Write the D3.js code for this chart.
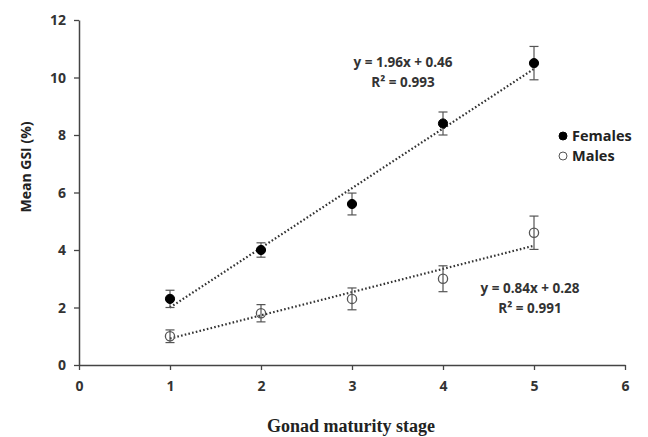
<!DOCTYPE html>
<html lang="en">
<head>
    <meta charset="UTF-8">
    <title>Mean GSI by gonad maturity stage</title>
    <script src="https://cdn.jsdelivr.net/npm/d3@7"></script>
    <style>
        body { margin: 0; background: #fff; }
        .tick text { font-family: "Open Sans", sans-serif; font-weight: bold; font-size: 14px; fill: #333; }
        .trend { fill: none; stroke: #333; stroke-width: 2.2px; stroke-dasharray: 1.6 2.2; }
        .err { stroke: #555; stroke-width: 1.2px; }
        .lbl { font-family: "Open Sans", sans-serif; font-weight: bold; font-size: 13.5px; fill: #333; }
    </style>
</head>
<body>
    <div id="charts"></div>
    <script>
        // data
        const stages = [1, 2, 3, 4, 5];
        const females = [2.3, 4.0, 5.6, 8.4, 10.5];
        const femalesErr = [0.3, 0.25, 0.38, 0.4, 0.58];
        const males = [1.0, 1.8, 2.3, 3.0, 4.6];
        const malesErr = [0.22, 0.3, 0.38, 0.45, 0.58];
        // drawn trend lines (start, end at stage 1 and 5)
        const femalesTrend = [2.0, 10.3];
        const malesTrend = [0.92, 4.15];
        const xTicks = [0, 1, 2, 3, 4, 5, 6];
        const yTicks = [0, 2, 4, 6, 8, 10, 12];

        const margin = { top: 20, right: 23, bottom: 72, left: 79 };
        const width = 648 - margin.left - margin.right;
        const height = 437 - margin.top - margin.bottom;

        const x = d3.scaleLinear().domain([0, 6]).range([0, width]);
        const y = d3.scaleLinear().domain([0, 12]).range([height, 0]);

        const svg = d3.select("#charts")
            .append("svg")
            .attr("width", 648)
            .attr("height", 437);
        const g = svg.append("g")
            .attr("transform", "translate(" + margin.left + "," + margin.top + ")");

        // axes
        const xAxis = g.append("g")
            .attr("transform", "translate(0," + height + ")")
            .call(d3.axisBottom(x).tickValues(xTicks).tickFormat(d3.format("d")).tickSize(5).tickSizeOuter(0));
        const yAxis = g.append("g")
            .call(d3.axisLeft(y).tickValues(yTicks).tickFormat(d3.format("d")).tickSize(5).tickSizeOuter(0));
        [xAxis, yAxis].forEach(a => {
            a.select(".domain").attr("stroke", "#444").attr("stroke-width", 1.5);
            a.selectAll(".tick line").attr("stroke", "#444").attr("stroke-width", 1.3);
        });
        xAxis.selectAll(".tick text").attr("dy", "1.3em");
        yAxis.selectAll(".tick text").attr("x", -13).attr("dy", "0.35em");

        // trend lines
        const line = d3.line().x(d => x(d[0])).y(d => y(d[1]));
        [femalesTrend, malesTrend].forEach(t => {
            g.append("path")
                .datum([[1, t[0]], [5, t[1]]])
                .attr("class", "trend")
                .attr("d", line);
        });

        // error bars and markers
        function drawSeries(vals, errs, filled) {
            const data = stages.map((s, i) => ({ s: s, v: vals[i], e: errs[i] }));
            const eg = g.append("g");
            eg.selectAll(".v").data(data).join("line")
                .attr("class", "err")
                .attr("x1", d => x(d.s)).attr("x2", d => x(d.s))
                .attr("y1", d => y(d.v - d.e)).attr("y2", d => y(d.v + d.e));
            [-1, 1].forEach(sign => {
                eg.selectAll(".c" + sign).data(data).join("line")
                    .attr("class", "err")
                    .attr("x1", d => x(d.s) - 4.5).attr("x2", d => x(d.s) + 4.5)
                    .attr("y1", d => y(d.v + sign * d.e)).attr("y2", d => y(d.v + sign * d.e));
            });
            eg.selectAll("circle").data(data).join("circle")
                .attr("cx", d => x(d.s)).attr("cy", d => y(d.v))
                .attr("r", 4.6)
                .attr("fill", filled ? "#000" : "none")
                .attr("stroke", filled ? "#000" : "#555")
                .attr("stroke-width", filled ? 1 : 1.3);
        }
        drawSeries(males, malesErr, false);
        drawSeries(females, femalesErr, true);

        // equations
        const eqs = [
            { t1: "y = 1.96x + 0.46", t2: "0.993", cx: 403, cy: 62 },
            { t1: "y = 0.84x + 0.28", t2: "0.991", cx: 530, cy: 288 }
        ];
        eqs.forEach(e => {
            svg.append("text").attr("class", "lbl").attr("x", e.cx).attr("y", e.cy + 5)
                .attr("text-anchor", "middle").text(e.t1);
            svg.append("text").attr("class", "lbl").attr("x", e.cx).attr("y", e.cy + 25)
                .attr("text-anchor", "middle").text("R² = " + e.t2);
        });

        // legend
        const legend = [{ name: "Females", filled: true }, { name: "Males", filled: false }];
        legend.forEach((d, i) => {
            const ly = 136 + i * 20;
            svg.append("circle").attr("cx", 563).attr("cy", ly).attr("r", 4)
                .attr("fill", d.filled ? "#000" : "#fff")
                .attr("stroke", d.filled ? "#000" : "#555").attr("stroke-width", 1);
            svg.append("text").attr("x", 572).attr("y", ly + 5)
                .attr("font-family", "Open Sans, sans-serif").attr("font-weight", "bold")
                .attr("font-size", 14.5).attr("fill", "#222").text(d.name);
        });

        // axis titles
        svg.append("text")
            .attr("x", 351).attr("y", 432)
            .attr("text-anchor", "middle")
            .attr("font-family", "Liberation Serif, serif").attr("font-weight", "bold")
            .attr("font-size", 18).attr("fill", "#222")
            .text("Gonad maturity stage");
        svg.append("text")
            .attr("transform", "translate(31,167) rotate(-90)")
            .attr("text-anchor", "middle")
            .attr("font-family", "Open Sans, sans-serif").attr("font-weight", "bold")
            .attr("font-size", 14).attr("fill", "#222")
            .text("Mean GSI (%)");
    </script>
</body>
</html>
